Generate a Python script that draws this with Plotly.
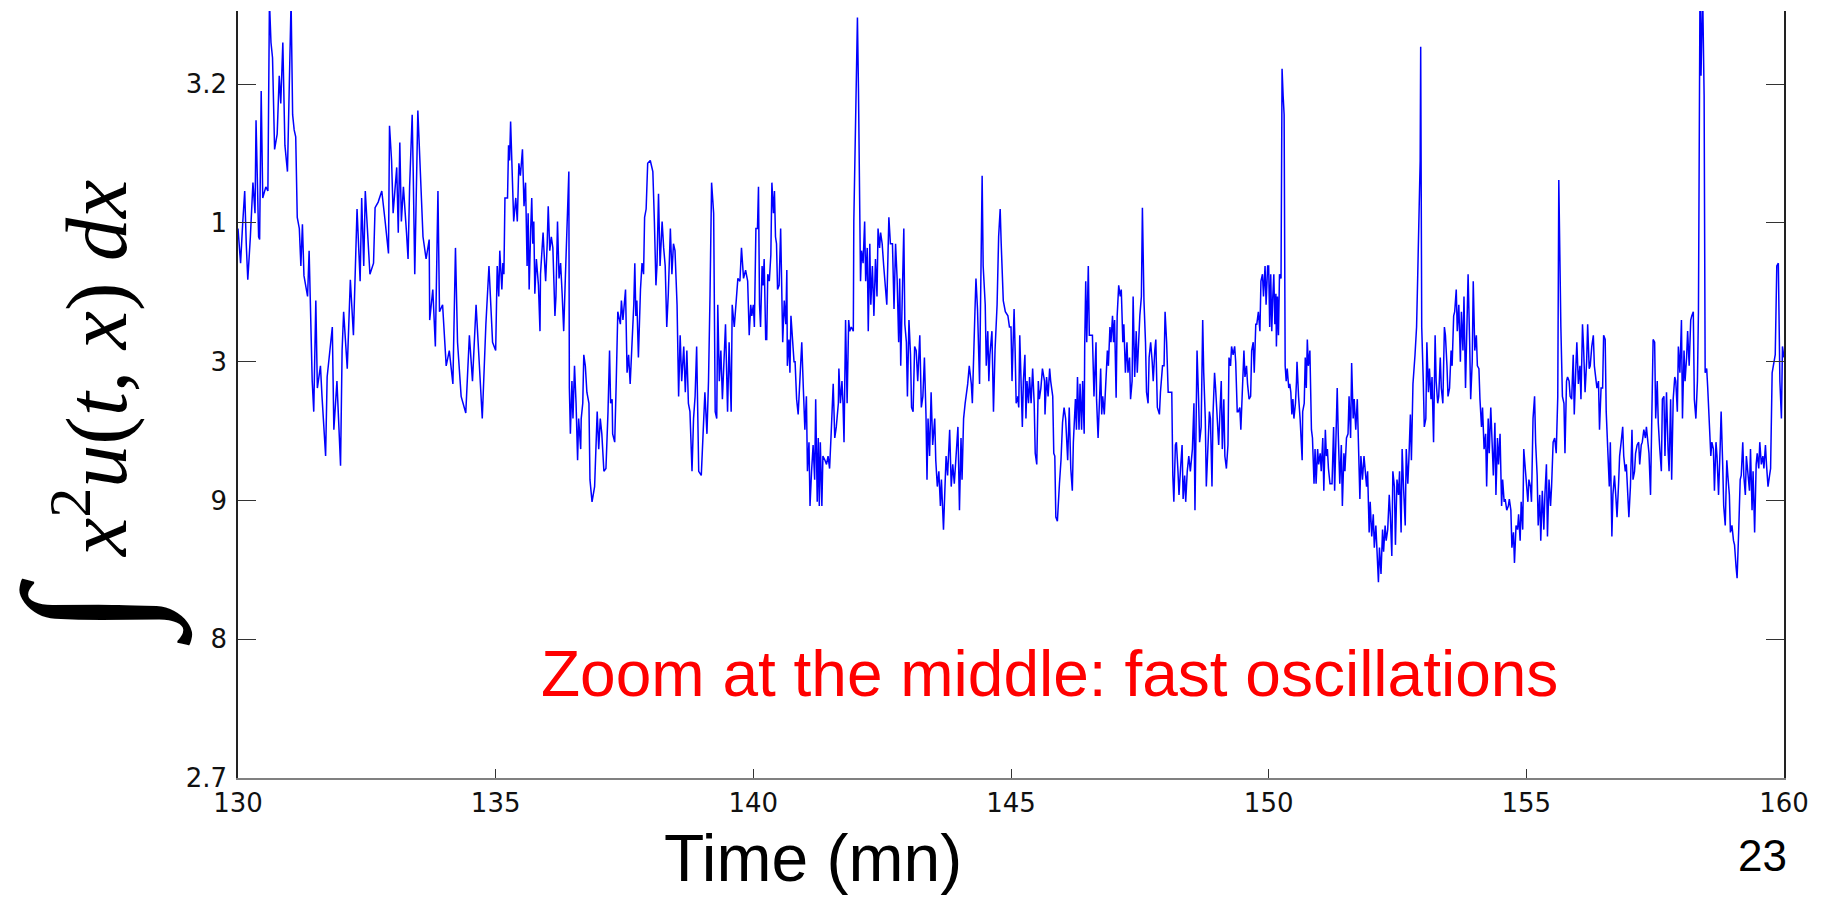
import plotly.graph_objects as go

# ---------------- data ----------------
t_130 = [130.00,130.05,130.09,130.13,130.16,130.19,130.24,130.29,130.33,130.35,130.40,130.42,130.45,130.48,130.54,130.58,130.61,130.64,130.67,130.71,130.76,130.80,130.83,130.87,130.91,130.96,131.03,131.06,131.09,131.12,131.15,131.19,131.22,131.25,131.28,131.35,131.38,131.41,131.44,131.47,131.51,131.54,131.60,131.63,131.70,131.73,131.79,131.83,131.86,131.92,131.99,132.02,132.05,132.12,132.18,132.24,132.31,132.37,132.40,132.44,132.47,132.53,132.56,132.63,132.66,132.72,132.79,132.85,132.92,132.94,132.98,133.01,133.08,133.11,133.14,133.17,133.21,133.27,133.30,133.33,133.38,133.40,133.43,133.49,133.56,133.59,133.65,133.71,133.72,133.78,133.83,133.88,133.91,133.97,134.04,134.10,134.17,134.22,134.26,134.33,134.42,134.49,134.55,134.62,134.68,134.74,134.81,134.87,134.94]
v_130 = [3.096,3.071,3.099,3.123,3.085,3.059,3.090,3.129,3.107,3.174,3.090,3.088,3.195,3.118,3.126,3.123,3.26,3.230,3.219,3.153,3.164,3.206,3.186,3.230,3.156,3.137,3.26,3.178,3.167,3.162,3.104,3.096,3.069,3.099,3.062,3.047,3.080,3.019,2.986,2.964,3.044,2.981,2.997,2.975,2.932,2.989,3.011,3.025,2.951,2.986,2.925,3.008,3.036,2.995,3.059,3.019,3.110,3.058,3.118,3.069,3.123,3.088,3.063,3.071,3.111,3.115,3.123,3.103,3.078,3.170,3.145,3.107,3.140,3.093,3.158,3.101,3.126,3.093,3.074,3.126,3.178,3.137,3.063,3.181,3.123,3.090,3.074,3.088,3.030,3.052,3.011,3.123,3.036,3.041,2.997,3.008,2.984,3.082,3.014,2.975,2.963,3.019,2.986,3.041,3.000,2.959,3.027,3.069,3.014]

t_135 = [135.00,135.03,135.06,135.08,135.12,135.14,135.16,135.18,135.23,135.25,135.27,135.29,135.32,135.35,135.39,135.42,135.45,135.48,135.52,135.55,135.58,135.61,135.63,135.65,135.68,135.70,135.72,135.74,135.76,135.79,135.83,135.86,135.87,135.92,135.95,135.97,136.00,136.02,136.05,136.08,136.11,136.15,136.17,136.20,136.23,136.26,136.29,136.32,136.35,136.39,136.42,136.43,136.45,136.48,136.50,136.53,136.56,136.59,136.61,136.65,136.66,136.69,136.71,136.74,136.77,136.81,136.83,136.87,136.92,136.97,137.00,137.03,137.06,137.10,137.14,137.18,137.21,137.23,137.26,137.27,137.31,137.34,137.37,137.42,137.44,137.47,137.52,137.55,137.58,137.61,137.65,137.68,137.70,137.72,137.74,137.77,137.81,137.84,137.87,137.89,137.92,137.95,138.00,138.05,138.08,138.11,138.13,138.16,138.19,138.23,138.26,138.29,138.32,138.35,138.39,138.42,138.45,138.48,138.52,138.55,138.58,138.61,138.65,138.68,138.71,138.74,138.77,138.81,138.84,138.87,138.90,138.94,138.99,139.03,139.06,139.10,139.13,139.16,139.19,139.23,139.26,139.29,139.31,139.34,139.37,139.40,139.44,139.46,139.50,139.53,139.57,139.59,139.63,139.66,139.70,139.74,139.77,139.81,139.85,139.89,139.92,139.95,139.97]
v_135 = [3.008,3.069,3.047,3.080,3.052,3.071,3.063,3.118,3.118,3.156,3.145,3.173,3.134,3.101,3.118,3.101,3.143,3.134,3.153,3.112,3.129,3.069,3.107,3.052,3.096,3.118,3.085,3.101,3.049,3.074,3.055,3.022,3.063,3.093,3.071,3.058,3.085,3.112,3.080,3.090,3.082,3.033,3.047,3.101,3.060,3.071,3.049,3.022,3.058,3.096,3.137,2.981,2.948,2.986,2.959,2.997,2.970,2.929,2.959,2.937,2.959,2.970,3.005,2.997,2.978,2.970,2.915,2.899,2.910,2.964,2.937,2.959,2.948,2.921,2.923,2.964,3.008,2.970,2.973,2.948,2.942,2.986,3.036,3.027,3.044,3.030,3.052,2.992,3.005,2.984,3.014,3.041,3.071,3.033,3.044,3.003,3.052,3.071,3.063,3.104,3.110,3.143,3.145,3.137,3.101,3.055,3.069,3.121,3.069,3.101,3.082,3.069,3.025,3.049,3.096,3.063,3.085,3.080,3.041,2.975,3.019,2.986,3.011,2.978,3.008,2.970,2.964,2.921,2.959,2.975,3.011,2.921,2.918,2.951,2.978,2.948,2.986,3.049,3.129,3.107,2.964,2.959,3.041,2.986,3.008,2.973,3.008,3.027,2.964,3.014,2.964,3.041,3.025,3.041,3.060,3.058,3.082,3.060,3.066,3.058,3.019,3.041,3.033]

t_140 = [140.00,140.02,140.05,140.08,140.10,140.12,140.14,140.17,140.19,140.21,140.24,140.26,140.28,140.31,140.34,140.36,140.39,140.41,140.43,140.45,140.47,140.50,140.53,140.55,140.57,140.60,140.63,140.65,140.66,140.69,140.71,140.73,140.76,140.79,140.81,140.84,140.87,140.90,140.94,140.97,141.00,141.03,141.05,141.08,141.10,141.13,141.16,141.19,141.21,141.24,141.26,141.28,141.30,141.33,141.35,141.39,141.42,141.45,141.48,141.51,141.53,141.55,141.58,141.61,141.65,141.66,141.69,141.72,141.74,141.76,141.79,141.82,141.85,141.87,141.90,141.94,141.95,141.98,142.00,142.02,142.04,142.06,142.08,142.10,142.13,142.16,142.18,142.21,142.23,142.26,142.28,142.31,142.34,142.37,142.40,142.42,142.45,142.47,142.50,142.53,142.56,142.59,142.63,142.66,142.70,142.73,142.76,142.79,142.82,142.84,142.86,142.89,142.92,142.94,142.97,142.99,143.02,143.05,143.07,143.10,143.13,143.16,143.19,143.23,143.26,143.29,143.32,143.35,143.37,143.39,143.42,143.45,143.48,143.52,143.54,143.57,143.60,143.63,143.65,143.69,143.72,143.74,143.77,143.81,143.84,143.87,143.90,143.94,143.97,144.00,144.03,144.05,144.08,144.11,144.14,144.16,144.19,144.23,144.25,144.27,144.30,144.32,144.35,144.39,144.41,144.44,144.46,144.50,144.52,144.55,144.57,144.59,144.63,144.66,144.69,144.73,144.76,144.79,144.81,144.85,144.89,144.94,144.97]
v_140 = [3.041,3.025,3.096,3.096,3.126,3.041,3.025,3.069,3.055,3.074,3.016,3.016,3.063,3.058,3.077,3.129,3.107,3.123,3.090,3.085,3.052,3.055,3.096,3.033,3.014,3.044,3.027,3.066,2.997,3.016,2.992,3.033,3.014,3.000,3.000,2.973,2.962,2.986,3.014,2.981,2.951,2.975,2.921,2.942,2.896,2.921,2.940,2.915,2.973,2.899,2.945,2.896,2.942,2.896,2.932,2.929,2.926,2.932,2.923,2.948,2.964,2.984,2.945,2.953,2.970,2.995,2.970,2.986,2.970,2.942,3.030,2.970,3.030,3.022,3.025,3.022,3.101,3.178,3.225,3.248,3.197,3.145,3.058,3.080,3.071,3.101,3.058,3.082,3.022,3.085,3.041,3.069,3.033,3.074,3.047,3.096,3.082,3.093,3.085,3.069,3.052,3.041,3.104,3.085,3.085,3.038,3.085,3.060,3.014,3.060,2.997,3.052,3.096,3.027,3.014,2.975,3.030,3.005,2.967,2.964,3.011,3.008,2.986,3.019,2.967,2.975,3.003,2.962,2.915,2.959,2.932,2.978,2.940,2.959,2.929,2.910,2.921,2.896,2.915,2.879,2.907,2.932,2.918,2.951,2.910,2.926,2.912,2.932,2.953,2.893,2.945,2.915,2.959,2.970,2.978,2.984,2.997,2.984,2.970,3.003,3.036,3.060,3.038,2.984,3.041,3.134,3.069,3.041,2.997,3.022,2.986,3.005,3.022,2.964,3.008,3.041,3.090,3.110,3.085,3.044,3.036,3.033,3.025]

t_145 = [145.00,145.02,145.04,145.06,145.08,145.10,145.13,145.15,145.17,145.19,145.22,145.24,145.27,145.29,145.31,145.34,145.36,145.39,145.42,145.45,145.47,145.50,145.53,145.55,145.58,145.61,145.65,145.66,145.69,145.72,145.75,145.77,145.81,145.83,145.85,145.87,145.90,145.94,145.97,146.00,146.03,146.06,146.10,146.13,146.16,146.19,146.21,146.25,146.27,146.29,146.32,146.34,146.37,146.39,146.42,146.43,146.45,146.47,146.50,146.52,146.55,146.58,146.61,146.65,146.66,146.69,146.72,146.74,146.76,146.78,146.81,146.84,146.87,146.89,146.92,146.94,146.97,146.99,147.01,147.04,147.06,147.09,147.12,147.14,147.17,147.19,147.22,147.25,147.27,147.30,147.32,147.35,147.37,147.40,147.43,147.45,147.48,147.50,147.53,147.55,147.58,147.61,147.63,147.66,147.68,147.71,147.74,147.76,147.79,147.81,147.84,147.88,147.90,147.94,147.97,147.99,148.02,148.05,148.10,148.12,148.14,148.16,148.19,148.21,148.24,148.26,148.29,148.32,148.34,148.37,148.39,148.42,148.45,148.48,148.52,148.55,148.57,148.59,148.61,148.64,148.66,148.69,148.72,148.74,148.77,148.79,148.82,148.85,148.87,148.90,148.92,148.95,148.97,149.00,149.03,149.05,149.08,149.10,149.13,149.15,149.18,149.21,149.23,149.26,149.28,149.31,149.34,149.36,149.39,149.41,149.44,149.46,149.49,149.52,149.54,149.57,149.59,149.62,149.65,149.67,149.70,149.72,149.75,149.77,149.80,149.83,149.85,149.88,149.90,149.93,149.95,149.98]
v_145 = [3.025,2.986,3.019,3.038,3.008,2.970,2.975,2.967,3.019,2.986,2.953,2.986,3.005,2.959,2.986,2.970,2.989,2.970,2.995,2.970,2.934,2.926,2.986,2.973,2.981,2.995,2.986,2.962,2.989,2.975,2.995,2.986,2.975,2.934,2.932,2.888,2.885,2.912,2.929,2.956,2.967,2.959,2.929,2.967,2.923,2.907,2.942,2.973,2.951,2.989,2.951,2.984,2.951,2.986,2.948,3.011,3.058,3.014,3.069,3.019,3.019,3.019,2.975,3.014,2.973,2.945,2.975,2.995,2.962,2.975,2.962,2.981,3.008,2.997,3.025,3.014,3.033,3.014,3.030,2.974,3.033,3.055,3.047,3.052,3.014,3.027,2.992,3.014,2.992,3.003,2.973,2.986,3.047,2.989,3.022,2.992,3.019,3.033,3.047,3.111,3.044,3.014,2.978,2.970,3.003,3.014,3.000,2.986,3.008,3.016,2.967,2.962,2.978,2.997,2.997,3.036,3.014,2.978,2.978,2.978,2.918,2.899,2.940,2.942,2.921,2.904,2.923,2.940,2.901,2.918,2.899,2.921,2.932,2.921,2.937,2.970,2.893,2.959,3.008,2.973,2.942,2.953,3.030,2.992,2.959,2.910,2.942,2.964,2.959,2.910,2.962,2.992,2.981,2.959,2.940,2.959,2.986,2.937,2.973,2.932,2.923,2.940,3.003,2.997,3.011,3.005,3.011,3.000,2.964,2.964,2.967,2.951,2.986,3.008,2.989,2.997,2.984,2.973,2.975,3.008,3.014,2.992,3.027,3.027,3.036,3.022,3.058,3.063,3.047,3.069,3.041,3.069]

t_150 = [150.00,150.02,150.04,150.06,150.08,150.10,150.12,150.14,150.15,150.17,150.19,150.21,150.24,150.26,150.28,150.30,150.32,150.34,150.36,150.39,150.41,150.43,150.45,150.47,150.49,150.52,150.54,150.55,150.58,150.61,150.65,150.66,150.69,150.71,150.73,150.75,150.77,150.80,150.83,150.85,150.88,150.90,150.92,150.95,150.97,151.00,151.02,151.05,151.07,151.10,151.12,151.14,151.16,151.19,151.23,151.26,151.28,151.30,151.33,151.35,151.38,151.41,151.43,151.46,151.48,151.51,151.54,151.56,151.59,151.61,151.64,151.66,151.69,151.72,151.74,151.77,151.79,151.82,151.85,151.87,151.90,151.92,151.95,151.97,152.00,152.03,152.05,152.08,152.10,152.13,152.15,152.18,152.21,152.23,152.26,152.28,152.31,152.34,152.36,152.39,152.41,152.44,152.46,152.49,152.52,152.54,152.57,152.59,152.62,152.65,152.67,152.70,152.72,152.75,152.77,152.80,152.84,152.87,152.89,152.92,152.94,152.95,152.97,153.00,153.02,153.05,153.07,153.10,153.12,153.15,153.17,153.20,153.23,153.25,153.28,153.30,153.33,153.35,153.38,153.41,153.43,153.46,153.48,153.51,153.54,153.56,153.59,153.61,153.64,153.66,153.69,153.72,153.74,153.77,153.79,153.82,153.85,153.87,153.90,153.92,153.95,153.97,154.00,154.03,154.05,154.08,154.10,154.13,154.15,154.18,154.21,154.23,154.26,154.28,154.31,154.34,154.36,154.39,154.41,154.44,154.46,154.49,154.52,154.54,154.57,154.59,154.62,154.65,154.67,154.70,154.72,154.75,154.77,154.80,154.83,154.85,154.88,154.90,154.93,154.95,154.98]
v_150 = [3.069,3.025,3.063,3.022,3.047,3.063,3.027,3.049,3.011,3.047,3.019,3.063,3.060,3.211,3.192,3.178,2.997,2.986,2.995,2.981,2.984,2.978,2.962,2.973,2.959,2.970,2.986,3.000,2.975,2.959,2.929,2.964,2.970,3.003,2.981,3.016,2.997,3.008,2.951,2.945,2.912,2.937,2.912,2.937,2.926,2.934,2.921,2.945,2.907,2.951,2.932,2.937,2.923,2.912,2.912,2.953,2.907,2.942,2.981,2.948,2.912,2.940,2.896,2.934,2.921,2.945,2.948,2.975,2.945,2.999,2.959,2.973,2.951,2.973,2.940,2.901,2.932,2.915,2.932,2.921,2.910,2.921,2.877,2.899,2.874,2.890,2.866,2.882,2.860,2.841,2.866,2.847,2.879,2.863,2.882,2.871,2.879,2.904,2.890,2.860,2.921,2.910,2.868,2.915,2.904,2.921,2.877,2.937,2.907,2.882,2.937,2.912,2.929,2.962,2.929,2.984,3.005,3.025,3.058,3.104,3.145,3.227,3.025,2.986,2.953,2.959,3.014,2.978,2.995,2.973,2.989,2.942,3.019,2.986,2.970,2.975,3.003,2.981,2.970,3.025,3.019,2.997,2.975,2.981,3.008,2.997,3.033,3.036,3.052,3.022,3.041,3.000,3.036,3.008,3.047,2.981,3.038,3.063,3.014,2.973,3.000,3.058,3.008,3.019,2.997,2.995,2.973,2.953,2.967,2.937,2.948,2.910,2.959,2.934,2.967,2.940,2.918,2.956,2.904,2.945,2.926,2.948,2.896,2.915,2.899,2.901,2.893,2.896,2.901,2.893,2.866,2.877,2.855,2.882,2.879,2.890,2.871,2.899,2.879,2.937,2.923]

t_155 = [155.00,155.03,155.05,155.08,155.10,155.13,155.16,155.18,155.21,155.23,155.26,155.28,155.31,155.34,155.36,155.39,155.41,155.44,155.47,155.49,155.52,155.55,155.58,155.61,155.63,155.65,155.67,155.70,155.73,155.75,155.78,155.80,155.83,155.85,155.88,155.91,155.93,155.96,155.98,156.01,156.04,156.06,156.09,156.11,156.14,156.17,156.19,156.22,156.24,156.27,156.30,156.32,156.35,156.37,156.40,156.42,156.45,156.48,156.50,156.53,156.55,156.58,156.61,156.63,156.66,156.68,156.71,156.74,156.76,156.79,156.81,156.84,156.87,156.89,156.92,156.94,156.97,156.99,157.02,157.05,157.07,157.10,157.12,157.15,157.18,157.20,157.23,157.25,157.28,157.31,157.33,157.36,157.38,157.41,157.44,157.46,157.49,157.51,157.54,157.56,157.59,157.62,157.64,157.67,157.69,157.72,157.75,157.77,157.80,157.82,157.85,157.88,157.90,157.93,157.95,157.98,158.01,158.03,158.06,158.08,158.11,158.13,158.16,158.19,158.21,158.24,158.26,158.29,158.32,158.34,158.37,158.39,158.42,158.45,158.47,158.50,158.52,158.55,158.58,158.60,158.63,158.65,158.68,158.70,158.73,158.76,158.78,158.81,158.83,158.86,158.89,158.91,158.94,158.96,158.99,159.02,159.04,159.07,159.09,159.12,159.15,159.17,159.20,159.22,159.25,159.27,159.30,159.33,159.35,159.38,159.40,159.43,159.46,159.48,159.51,159.53,159.56,159.59,159.61,159.64,159.66,159.69,159.72,159.74,159.77,159.79,159.83,159.86,159.89,159.92,159.95,159.97,160.00]
v_155 = [2.918,2.899,2.915,2.910,2.899,2.959,2.975,2.942,2.918,2.882,2.904,2.871,2.907,2.879,2.904,2.926,2.874,2.915,2.896,2.910,2.942,2.945,2.934,2.975,3.131,3.071,3.025,2.975,2.970,2.934,2.986,2.989,2.986,2.975,2.973,3.005,2.962,2.995,3.014,2.984,2.997,2.973,3.027,3.011,2.978,3.000,3.027,2.995,2.997,3.011,3.019,2.997,2.986,2.981,2.986,2.951,2.981,2.981,3.019,3.016,2.964,2.942,2.910,2.942,2.874,2.904,2.918,2.901,2.888,2.912,2.932,2.942,2.953,2.932,2.921,2.926,2.907,2.888,2.910,2.951,2.915,2.921,2.934,2.940,2.942,2.926,2.940,2.942,2.951,2.945,2.953,2.937,2.934,2.904,2.964,3.016,3.014,2.959,2.986,2.956,2.937,2.921,2.973,2.975,2.932,2.978,2.937,2.921,2.973,2.915,2.973,2.989,2.986,2.964,3.011,2.992,3.030,2.959,3.008,2.986,3.003,3.022,2.997,3.030,3.033,3.036,2.973,2.959,2.986,3.036,3.27,3.206,3.27,3.192,2.992,2.995,2.981,2.959,2.932,2.942,2.937,2.907,2.942,2.932,2.904,2.937,2.964,2.926,2.896,2.882,2.929,2.918,2.904,2.877,2.882,2.871,2.868,2.852,2.844,2.877,2.915,2.918,2.942,2.918,2.904,2.932,2.921,2.907,2.937,2.893,2.921,2.877,2.926,2.934,2.923,2.942,2.926,2.932,2.923,2.940,2.926,2.910,2.918,2.923,2.992,2.997,3.005,3.069,3.071,2.986,2.959,3.011,3.003]

x_ticks = [130, 135, 140, 145, 150, 155, 160]
y_ticks = [2.7, 2.8, 2.9, 3.0, 3.1, 3.2]
y_tick_text = ["2.7", "8", "9", "3", "1", "3.2"]

time = t_130 + t_135 + t_140 + t_145 + t_150 + t_155
value = v_130 + v_135 + v_140 + v_145 + v_150 + v_155

# ---------------- layout geometry ----------------
# the page body has an 8 px margin, so the figure is offset by OFF
OFF = 8
W, H = 1835 - OFF, 897 - OFF
L, R, T, B = 238 - OFF, 51, 11 - OFF, 119
PW, PH = W - L - R, H - T - B


def px(xw):
    """window pixel x -> paper coordinate"""
    return (xw - OFF - L) / PW


def py(yw):
    """window pixel y -> paper coordinate"""
    return (H - B - (yw - OFF)) / PH


fig = go.Figure()
fig.add_trace(go.Scatter(x=time, y=value, mode="lines",
                         line=dict(color="#0000FF", width=1.5),
                         hoverinfo="skip", showlegend=False))

tick_font = dict(family="DejaVu Sans", size=26, color="#111")
fig.update_layout(
    width=W, height=H,
    margin=dict(l=L, r=R, t=T, b=B, pad=0),
    paper_bgcolor="white", plot_bgcolor="white",
    showlegend=False,
    xaxis=dict(range=[130, 160], tickvals=x_ticks, ticks="inside", ticklen=9,
               tickcolor="#333", tickwidth=1, showline=True, linecolor="#808080",
               linewidth=1.5, mirror=False, showgrid=False, zeroline=False,
               tickfont=tick_font, ticklabelstandoff=1),
    yaxis=dict(range=[2.7, 3.2527], tickvals=y_ticks, ticktext=y_tick_text,
               ticks="inside", ticklen=18, tickcolor="#333", tickwidth=1,
               showline=True, linecolor="#222", linewidth=1.5, mirror="ticks",
               showgrid=False, zeroline=False,
               tickfont=tick_font, ticklabelstandoff=4),
)

ann = []
# y-axis title (math): integral sign and integrand as separate pieces
ann.append(dict(text="∫", x=px(90), y=py(612), xref="paper", yref="paper",
                showarrow=False, textangle=-90, xanchor="center", yanchor="middle",
                font=dict(family="Liberation Serif", size=176, color="black")))
ann.append(dict(text="<i>x</i><sup>2</sup><i>u</i>(<i>t</i>, <i>x</i>) <i>dx</i>",
                x=px(90), y=py(369), xref="paper", yref="paper",
                showarrow=False, textangle=-90, xanchor="center", yanchor="middle",
                font=dict(family="Liberation Serif", size=86, color="black")))
# x-axis title
ann.append(dict(text="Time (mn)", x=px(813), y=py(858), xref="paper", yref="paper",
                showarrow=False, xanchor="center", yanchor="middle",
                font=dict(family="Liberation Sans, Arial", size=66, color="black")))
# red remark
ann.append(dict(text="Zoom at the middle: fast oscillations", x=px(1049), y=py(674),
                xref="paper", yref="paper", showarrow=False,
                xanchor="center", yanchor="middle",
                font=dict(family="Liberation Sans, Arial", size=64, color="#FF0000")))
# page number
ann.append(dict(text="23", x=px(1762), y=py(855), xref="paper", yref="paper",
                showarrow=False, xanchor="center", yanchor="middle",
                font=dict(family="Liberation Sans, Arial", size=44, color="black")))
fig.update_layout(annotations=ann)

fig.write_html("out.html")
